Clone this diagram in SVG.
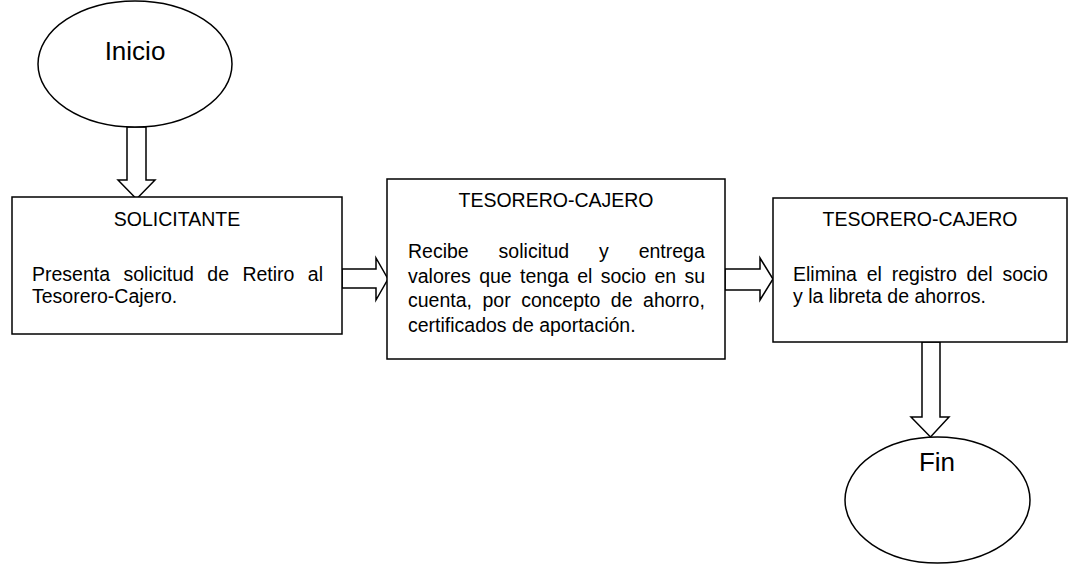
<svg xmlns="http://www.w3.org/2000/svg" width="1069" height="565" viewBox="0 0 1069 565">
<style>
.shape{fill:#fff;stroke:#000;stroke-width:1.5}
.arrow{fill:#fff;stroke:#000;stroke-width:1.5;stroke-linejoin:miter}
.t{font-family:"Liberation Sans",Arial,sans-serif;font-size:19.5px;fill:#000}
.c{text-anchor:middle}
.big{font-size:26px}
</style>
<rect width="1069" height="565" fill="#fff"/>
<g id="connectors">
<polygon class="arrow" points="127,127 146,127 146,180 155,180 136.5,199 118,180 127,180"/>
<polygon class="arrow" points="342,269 376,269 376,258 388,279 376,300 376,288 342,288"/>
<polygon class="arrow" points="725,269 760,269 760,258 773,279 760,300 760,290 725,290"/>
<polygon class="arrow" points="922,342 940,342 940,417 949,417 930.5,437 911,417 922,417"/>
</g>
<g id="inicio">
<ellipse class="shape" cx="135" cy="64" rx="97" ry="63"/>
<text class="t c big" x="135" y="60">Inicio</text>
</g>
<g id="solicitante">
<rect class="shape" x="12" y="197" width="330" height="137"/>
<text class="t c" x="177" y="226">SOLICITANTE</text>
<text class="t" x="32" y="281" word-spacing="8">Presenta solicitud de Retiro al</text>
<text class="t" x="32" y="303">Tesorero-Cajero.</text>
</g>
<g id="tesorero1">
<rect class="shape" x="387" y="179" width="338" height="180"/>
<text class="t c" x="556" y="207">TESORERO-CAJERO</text>
<text class="t" x="408" y="258" word-spacing="24.5">Recibe solicitud y entrega</text>
<text class="t" x="408" y="283" word-spacing="2.9">valores que tenga el socio en su</text>
<text class="t" x="408" y="307" word-spacing="5.1">cuenta, por concepto de ahorro,</text>
<text class="t" x="408" y="332">certificados de aportación.</text>
</g>
<g id="tesorero2">
<rect class="shape" x="773" y="198" width="294" height="144"/>
<text class="t c" x="920" y="226">TESORERO-CAJERO</text>
<text class="t" x="793" y="281" word-spacing="4.4">Elimina el registro del socio</text>
<text class="t" x="793" y="303">y la libreta de ahorros.</text>
</g>
<g id="fin">
<ellipse class="shape" cx="937.5" cy="500" rx="92.5" ry="63"/>
<text class="t c big" x="937" y="471">Fin</text>
</g>
</svg>
